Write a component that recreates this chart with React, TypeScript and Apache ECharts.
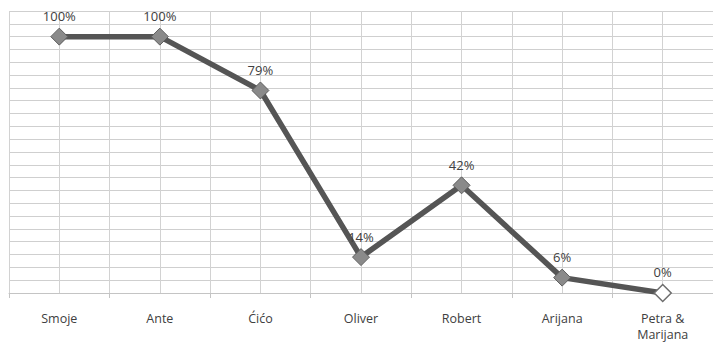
import React, { useEffect, useRef } from "react";
import * as echarts from "echarts";

const categories = ["Smoje", "Ante", "Ćićo", "Oliver", "Robert", "Arijana", "Petra &\nMarijana"];
const values = [100, 100, 79, 14, 42, 6, 0];

export default function App() {
  const ref = useRef<HTMLDivElement>(null);
  useEffect(() => {
    document.body.style.margin = "0";
    const chart = echarts.init(ref.current!, undefined, { renderer: "svg" });
    const font = "'Open Sans', 'Liberation Sans', sans-serif";
    const data = values.map((v, i) =>
      i === values.length - 1
        ? { value: v, itemStyle: { color: "#ffffff", borderColor: "#6e6e6e", borderWidth: 1.5 } }
        : v
    );
    chart.setOption({
      animation: false,
      backgroundColor: "#ffffff",
      grid: { left: 9, top: 11, width: 709, height: 282 },
      xAxis: [
        {
          type: "category",
          data: categories,
          boundaryGap: true,
          axisLine: { show: true, lineStyle: { color: "#c4c4c4", width: 1 } },
          axisTick: { show: true, length: 5, interval: 0, lineStyle: { color: "#c4c4c4" } },
          axisLabel: {
            interval: 0,
            margin: 17,
            color: "#404040",
            fontSize: 12.5,
            fontFamily: font,
            lineHeight: 16,
          },
          splitLine: { show: false },
        },
        {
          type: "value",
          min: 0,
          max: 14,
          interval: 1,
          position: "bottom",
          axisLine: { show: false },
          axisTick: { show: false },
          axisLabel: { show: false },
          splitLine: { show: true, lineStyle: { color: "#d2d2d2", width: 1 } },
        },
      ],
      yAxis: {
        type: "value",
        min: 0,
        max: 110,
        interval: 5,
        axisLine: { show: false },
        axisTick: { show: false },
        axisLabel: { show: false },
        splitLine: { show: true, lineStyle: { color: "#cfcfcf", width: 1 } },
      },
      series: [
        {
          type: "line",
          xAxisIndex: 0,
          data,
          lineStyle: { color: "#555555", width: 5.5 },
          symbol: "diamond",
          symbolSize: 17,
          itemStyle: { color: "#8a8a8a", borderColor: "#5e5e5e", borderWidth: 1 },
          label: {
            show: true,
            position: "top",
            distance: 5,
            formatter: "{c}%",
            color: "#404040",
            fontSize: 13,
            fontFamily: font,
          },
          z: 5,
        },
      ],
    });
    return () => chart.dispose();
  }, []);
  return <div ref={ref} style={{ width: 713, height: 342 }} />;
}
